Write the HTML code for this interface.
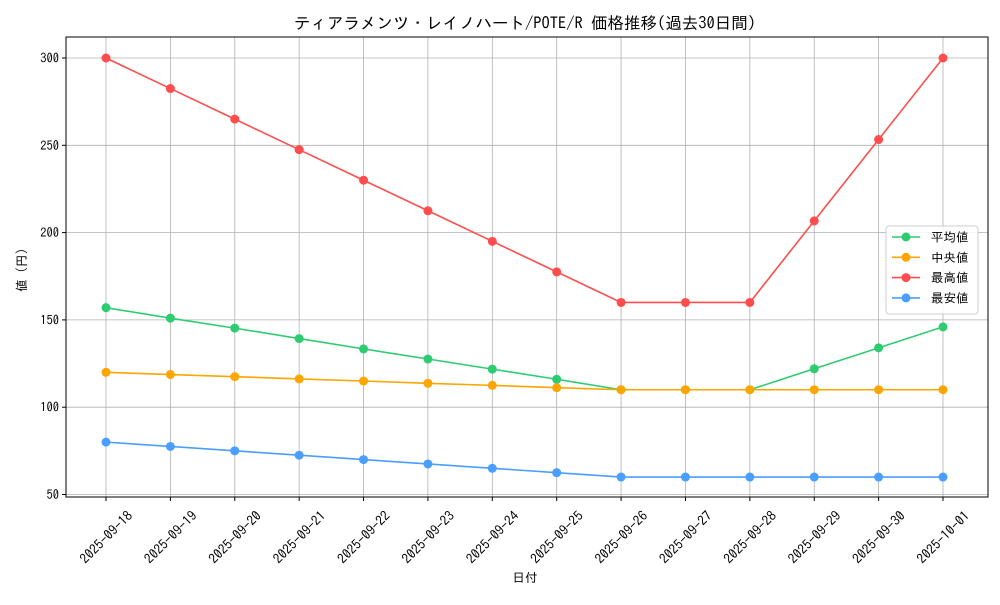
<!DOCTYPE html>
<html><head><meta charset="utf-8"><style>
body{margin:0;background:#fff}
svg text{font-family:"IPAGothic","Liberation Sans","Noto Sans CJK JP",sans-serif;fill:#000}
</style></head><body>
<svg id="c" width="1000" height="600" xmlns="http://www.w3.org/2000/svg">
<rect width="1000" height="600" fill="#fff"/>
<text x="525" y="29" font-size="16.5" text-anchor="middle">ティアラメンツ・レイノハート/POTE/R 価格推移(過去30日間)</text>
<text x="525" y="582" font-size="12.5" text-anchor="middle">日付</text>
<text x="0" y="0" font-size="12.5" text-anchor="middle" transform="translate(26,270) rotate(-90)">値 (円)</text>
<g id="grid"></g><g id="series"></g><g id="axes"></g>
</svg>
<script>
const categories=["2025-09-18","2025-09-19","2025-09-20","2025-09-21","2025-09-22","2025-09-23","2025-09-24","2025-09-25","2025-09-26","2025-09-27","2025-09-28","2025-09-29","2025-09-30","2025-10-01"];
const avgValues=[157,151,145.3,139.3,133.4,127.6,121.8,116,110,110,110,122,134,146];
const medianValues=[120,118.7,117.5,116.2,115,113.7,112.5,111.2,110,110,110,110,110,110];
const maxValues=[300,282.5,265,247.5,230,212.5,195,177.5,160,160,160,206.7,253.3,300];
const minValues=[80,77.5,75,72.5,70,67.5,65,62.5,60,60,60,60,60,60];
const yTicks=[50,100,150,200,250,300];
const seriesNames=["平均値","中央値","最高値","最安値"];

const L=66,R=988,T=37,B=497;
const NS="http://www.w3.org/2000/svg";
function x(i){return 106+i*(943-106)/(categories.length-1);}
function y(v){return 58+(300-v)*(494.5-58)/250;}
function mk(tag,attrs,parent){const e=document.createElementNS(NS,tag);for(const k in attrs)e.setAttribute(k,attrs[k]);parent.appendChild(e);return e;}
const grid=document.getElementById('grid'),ser=document.getElementById('series'),ax=document.getElementById('axes');
categories.forEach((c,i)=>{
  const g=mk('line',{x1:x(i),x2:x(i),y1:T,y2:B,stroke:'#b0b0b0','stroke-width':0.8},grid);
  
  
  const t=mk('line',{x1:x(i),x2:x(i),y1:B,y2:B+4,stroke:'#000'},ax);
  
  
  const lb=mk('text',{'font-size':13.5,'text-anchor':'middle',y:5,transform:`translate(${x(i)},${B+40}) rotate(-45)`},ax);
  lb.textContent=c;
  
  
});
yTicks.forEach(v=>{
  const g=mk('line',{x1:L,x2:R,y1:y(v),y2:y(v),stroke:'#b0b0b0','stroke-width':0.8},grid);
  
  
  const t=mk('line',{x1:L-4,x2:L,y1:y(v),y2:y(v),stroke:'#000'},ax);
  
  
  const lb=mk('text',{x:L-7,y:y(v)+4.5,'font-size':12.5,'text-anchor':'end'},ax);
  lb.textContent=v;
  
  
});
const fr=mk('rect',{x:L,y:T,width:R-L,height:B-T,fill:'none',stroke:'#000','stroke-width':1},ax);


const allSeries=[[avgValues,'#2ecc71','avg'],[medianValues,'#ffa500','median'],[maxValues,'#ff4d4d','max'],[minValues,'#4a9eff','min']];
allSeries.forEach(([vals,col,nm])=>{
  const p=mk('polyline',{points:vals.map((v,i)=>x(i)+','+y(v)).join(' '),fill:'none',stroke:col,'stroke-width':1.6},ser);
  
  
  vals.forEach((v,i)=>{
    const c=mk('circle',{cx:x(i),cy:y(v),r:4.5,fill:col},ser);
    
    
  });
});
const lg=mk('g',{},ax);


mk('rect',{x:886,y:226,width:92,height:88,rx:3,fill:'#fff','fill-opacity':0.85,stroke:'#ccc'},lg);
allSeries.forEach(([v,col,nm],k)=>{
  const yy=237+k*20.3;
  const e=mk('g',{},lg);
  
  
  mk('line',{x1:892,x2:920,y1:yy,y2:yy,stroke:col,'stroke-width':1.6},e);
  mk('circle',{cx:906,cy:yy,r:4.5,fill:col},e);
  const t=mk('text',{x:931,y:yy+4.5,'font-size':12.5},e);
  t.textContent=seriesNames[k];
});
</script>
</body></html>
